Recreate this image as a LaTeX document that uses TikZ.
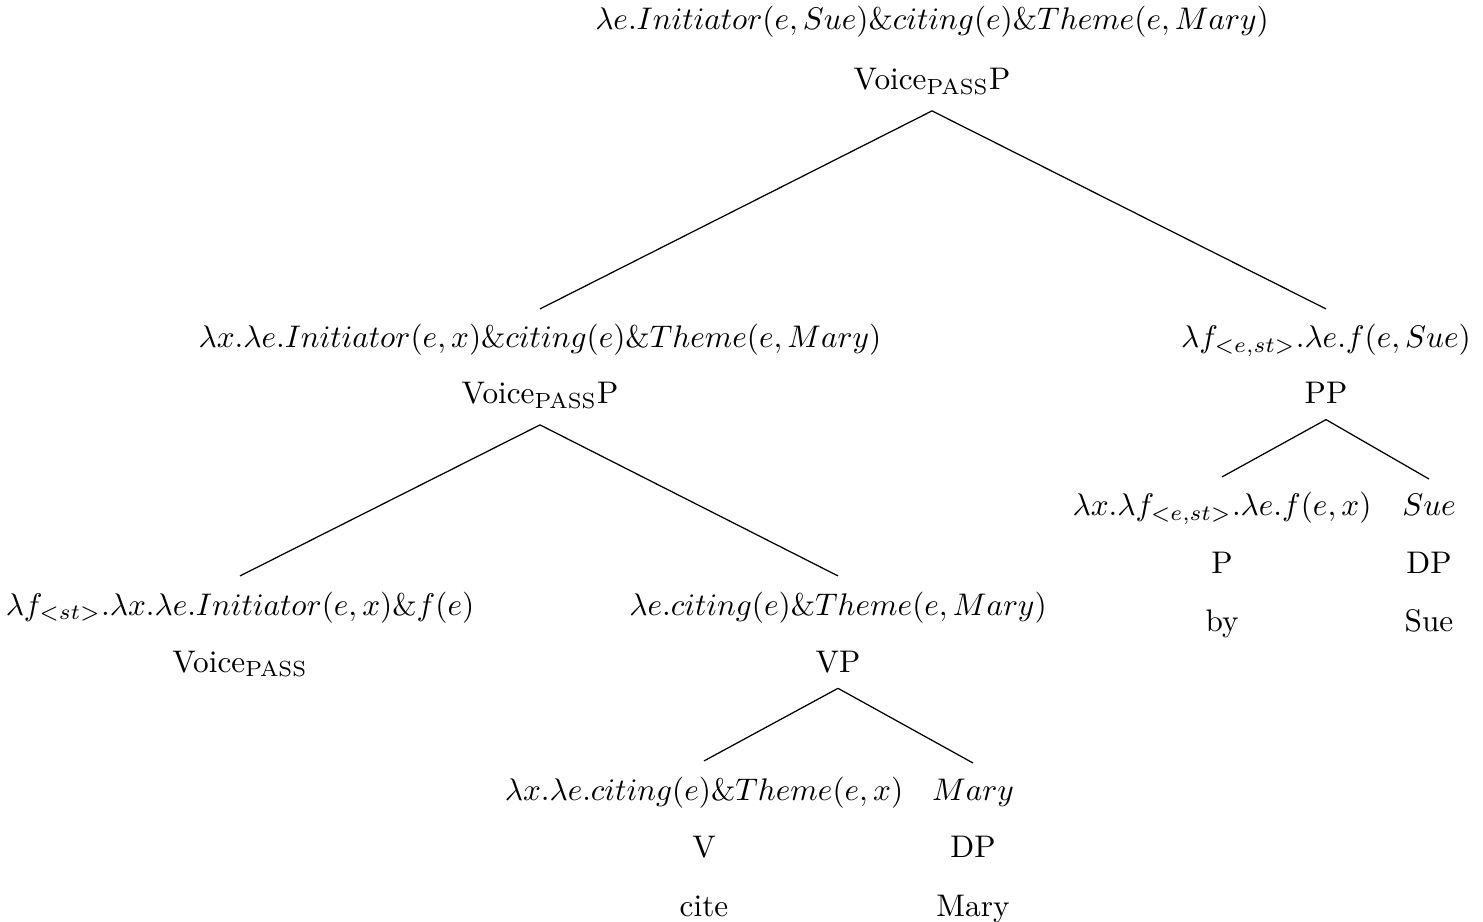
\documentclass[tikz,border=0pt]{standalone}
\usepackage{amsmath}
\usepackage{amssymb}
\usepackage{tikz}

\begin{document}
\begin{tikzpicture}[x=0.01125cm, y=-0.01125cm]
			\tikzset{lbl/.style={anchor=base, inner sep=2pt, outer ysep=3pt}}
			\useasboundingbox (0, 0) rectangle (1483, 922);
			% VoicePASSP (top)
			\node[lbl] (sTop) at (932, 30) {$\lambda e.Initiator(e,Sue)\&citing(e)\&Theme(e,Mary)$};
			\node[lbl] (cTop) at (932, 90) {Voice$_{\text{PASS}}$P};
			% VoicePASSP (lower) and PP
			\node[lbl] (sVoiceP) at (540, 348) {$\lambda x.\lambda e.Initiator(e,x)\&citing(e)\&Theme(e,Mary)$};
			\node[lbl] (cVoiceP) at (540, 404) {Voice$_{\text{PASS}}$P};
			\node[lbl] (sPP) at (1326, 348) {$\lambda f_{<e,st>}.\lambda e.f(e,Sue)$};
			\node[lbl] (cPP) at (1326, 404) {PP};
			% Voice and VP
			\node[lbl] (sVoice) at (240, 615) {$\lambda f_{<st>}.\lambda x.\lambda e.Initiator(e,x)\&f(e)$};
			\node[lbl] (cVoice) at (240, 672) {Voice$_{\text{PASS}}$};
			\node[lbl] (sVP) at (838, 615) {$\lambda e.citing(e)\&Theme(e,Mary)$};
			\node[lbl] (cVP) at (838, 672) {VP};
			% P and DP under PP
			\node[lbl] (sP) at (1222, 516) {$\lambda x.\lambda f_{<e,st>}.\lambda e.f(e,x)$};
			\node[lbl] (cP) at (1222, 573) {P};
			\node[lbl] (wP) at (1222, 631) {by};
			\node[lbl] (sSue) at (1429, 516) {$Sue$};
			\node[lbl] (cSue) at (1429, 573) {DP};
			\node[lbl] (wSue) at (1429, 631) {Sue};
			% V and DP under VP
			\node[lbl] (sV) at (704, 800) {$\lambda x.\lambda e.citing(e)\&Theme(e,x)$};
			\node[lbl] (cV) at (704, 857) {V};
			\node[lbl] (wV) at (704, 916) {cite};
			\node[lbl] (sMary) at (973, 800) {$Mary$};
			\node[lbl] (cMary) at (973, 857) {DP};
			\node[lbl] (wMary) at (973, 916) {Mary};
			% branches
			\foreach \m/\d in {cTop/sVoiceP, cTop/sPP, cVoiceP/sVoice, cVoiceP/sVP, cPP/sP, cPP/sSue, cVP/sV, cVP/sMary}
			\draw (\m.south) -- (\d.north);
			\end{tikzpicture}
\end{document}
